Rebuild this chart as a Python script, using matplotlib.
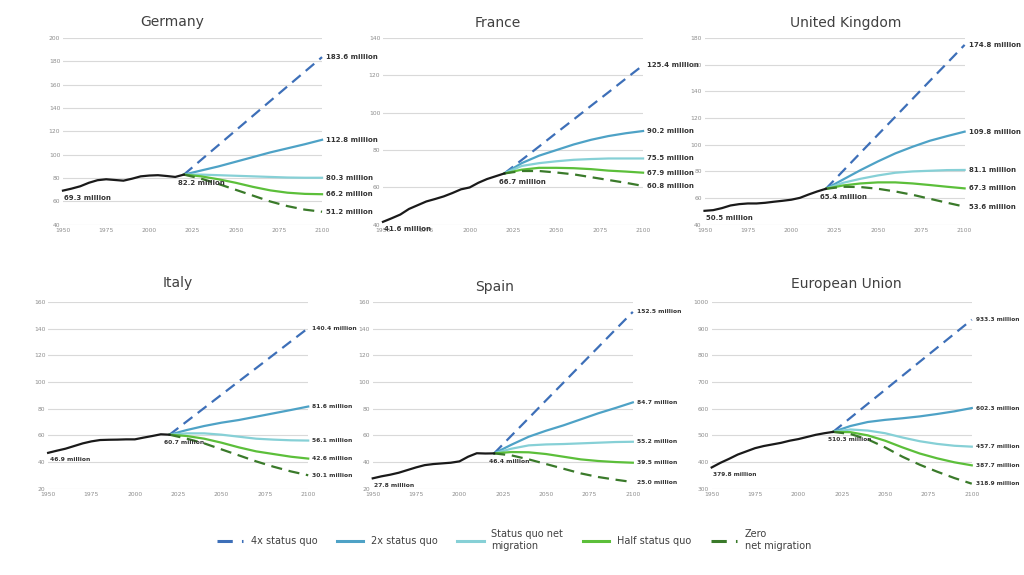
import matplotlib
matplotlib.use("Agg")
import matplotlib.pyplot as plt
from matplotlib.lines import Line2D

# ---- data (millions) -------------------------------------------------------
HIST_YEARS = [1950, 1955, 1960, 1965, 1970, 1975, 1980, 1985, 1990,
              1995, 2000, 2005, 2010, 2015, 2020]
PROJ_YEARS = [2020, 2030, 2040, 2050, 2060, 2070, 2080, 2090, 2100]

COUNTRIES = ["Germany", "France", "United Kingdom", "Italy", "Spain",
             "European Union"]

germany_hist = [69.3, 71.0, 73.0, 76.0, 78.2, 79.0, 78.4, 77.8, 79.5,
                81.5, 82.2, 82.5, 81.8, 81.0, 83.0]
germany_4x = [83.0, 95.6, 108.2, 120.8, 133.4, 146.0, 158.6, 171.1, 183.6]
germany_2x = [83.0, 86.5, 90.0, 94.0, 98.0, 102.0, 105.5, 109.0, 112.8]
germany_sq = [83.0, 83.0, 82.5, 82.0, 81.5, 81.0, 80.5, 80.3, 80.3]
germany_half = [83.0, 81.5, 79.0, 76.0, 72.5, 69.5, 67.5, 66.5, 66.2]
germany_zero = [83.0, 79.5, 75.0, 70.0, 65.0, 60.0, 56.0, 53.0, 51.2]

france_hist = [41.6, 43.5, 45.5, 48.5, 50.5, 52.5, 53.8, 55.2, 57.0,
               59.0, 60.0, 62.5, 64.5, 66.0, 67.5]
france_4x = [67.5, 74.7, 81.9, 89.2, 96.4, 103.7, 110.9, 118.2, 125.4]
france_2x = [67.5, 73.0, 77.0, 80.0, 83.0, 85.5, 87.5, 89.0, 90.2]
france_sq = [67.5, 71.5, 73.0, 74.0, 74.8, 75.2, 75.5, 75.5, 75.5]
france_half = [67.5, 69.5, 70.5, 70.5, 70.3, 69.8, 69.0, 68.5, 67.9]
france_zero = [67.5, 68.8, 68.8, 68.0, 67.0, 65.5, 64.0, 62.5, 60.8]

uk_hist = [50.5, 51.0, 52.5, 54.5, 55.5, 56.0, 56.0, 56.5, 57.3,
           58.0, 58.8, 60.2, 62.7, 65.0, 67.0]
uk_4x = [67.0, 80.5, 94.0, 107.5, 120.9, 134.4, 147.9, 161.3, 174.8]
uk_2x = [67.0, 74.0, 81.0, 87.5, 93.5, 98.5, 103.0, 106.5, 109.8]
uk_sq = [67.0, 71.5, 74.5, 77.0, 79.0, 80.0, 80.5, 81.0, 81.1]
uk_half = [67.0, 69.5, 71.0, 71.8, 71.8, 71.0, 69.8, 68.5, 67.3]
uk_zero = [67.0, 68.5, 68.3, 67.0, 65.0, 62.5, 59.5, 56.5, 53.6]

italy_hist = [46.9, 48.5, 50.0, 52.0, 54.0, 55.5, 56.5, 56.7, 56.8,
              57.0, 57.0, 58.3, 59.5, 60.8, 60.5]
italy_4x = [60.5, 70.5, 80.5, 90.5, 100.5, 110.4, 120.4, 130.4, 140.4]
italy_2x = [60.5, 64.0, 67.0, 69.5, 71.5, 74.0, 76.5, 79.0, 81.6]
italy_sq = [60.5, 61.5, 61.5, 60.5, 59.0, 57.5, 56.8, 56.3, 56.1]
italy_half = [60.5, 59.5, 57.5, 54.5, 51.0, 48.0, 46.0, 44.0, 42.6]
italy_zero = [60.5, 57.5, 54.0, 49.5, 45.0, 40.5, 36.5, 33.0, 30.1]

spain_hist = [27.8, 29.3, 30.5, 32.0, 34.0, 36.0, 37.7, 38.5, 39.0,
              39.5, 40.5, 44.0, 46.6, 46.4, 46.5]
spain_4x = [46.5, 59.8, 73.0, 86.3, 99.5, 112.8, 126.0, 139.3, 152.5]
spain_2x = [46.5, 53.0, 59.0, 63.5, 67.5, 72.0, 76.5, 80.5, 84.7]
spain_sq = [46.5, 50.0, 52.5, 53.2, 53.5, 54.0, 54.5, 55.0, 55.2]
spain_half = [46.5, 47.5, 47.3, 46.0, 44.0, 42.0, 40.8, 40.0, 39.5]
spain_zero = [46.5, 45.0, 42.0, 38.5, 35.0, 31.5, 28.8, 26.8, 25.0]

eu_hist = [379.8, 397.0, 412.0, 428.0, 440.0, 452.0, 460.0, 466.0, 472.0,
           480.0, 486.0, 494.0, 502.0, 508.0, 513.0]
eu_4x = [513.0, 565.5, 618.0, 670.5, 723.2, 775.8, 828.2, 880.8, 933.3]
eu_2x = [513.0, 535.0, 550.0, 558.0, 564.0, 571.0, 580.0, 590.0, 602.3]
eu_sq = [513.0, 522.0, 518.0, 508.0, 492.0, 478.0, 468.0, 461.0, 457.7]
eu_half = [513.0, 512.0, 500.0, 480.0, 455.0, 432.0, 414.0, 399.0, 387.7]
eu_zero = [513.0, 505.0, 485.0, 455.0, 420.0, 390.0, 364.0, 340.0, 318.9]

# labels printed on the chart
start_labels = ["69.3", "41.6", "50.5", "46.9", "27.8", "379.8"]
now_labels = ["82.2", "66.7", "65.4", "60.7", "46.4", "510.3"]
end_labels = [
    ["183.6", "112.8", "80.3", "66.2", "51.2"],
    ["125.4", "90.2", "75.5", "67.9", "60.8"],
    ["174.8", "109.8", "81.1", "67.3", "53.6"],
    ["140.4", "81.6", "56.1", "42.6", "30.1"],
    ["152.5", "84.7", "55.2", "39.5", "25.0"],
    ["933.3", "602.3", "457.7", "387.7", "318.9"],
]

HIST = [germany_hist, france_hist, uk_hist, italy_hist, spain_hist, eu_hist]
PROJ = [
    [germany_4x, germany_2x, germany_sq, germany_half, germany_zero],
    [france_4x, france_2x, france_sq, france_half, france_zero],
    [uk_4x, uk_2x, uk_sq, uk_half, uk_zero],
    [italy_4x, italy_2x, italy_sq, italy_half, italy_zero],
    [spain_4x, spain_2x, spain_sq, spain_half, spain_zero],
    [eu_4x, eu_2x, eu_sq, eu_half, eu_zero],
]
Y_RANGE = [(40, 200, 20), (40, 140, 20), (40, 180, 20),
           (20, 160, 20), (20, 160, 20), (300, 1000, 100)]

SCENARIOS = ["4x status quo", "2x status quo", "Status quo net\nmigration",
             "Half status quo", "Zero\nnet migration"]

# ---- styling / layout ------------------------------------------------------
SCEN_STYLE = [
    dict(color="#3d6fb8", ls=(0, (5, 3)), lw=1.6),
    dict(color="#4ea2c6", ls="-", lw=1.6),
    dict(color="#86d0d6", ls="-", lw=1.6),
    dict(color="#5cbf3a", ls="-", lw=1.6),
    dict(color="#3a7a2a", ls=(0, (5, 3)), lw=1.6),
]
# axes rectangles in figure fraction: left, bottom, width, height
AX_RECTS = [
    (0.0615, 0.609, 0.253, 0.325),
    (0.374, 0.609, 0.254, 0.325),
    (0.688, 0.609, 0.254, 0.325),
    (0.047, 0.150, 0.254, 0.325),
    (0.364, 0.150, 0.254, 0.325),
    (0.695, 0.150, 0.254, 0.325),
]
TITLE_POS = [(0.168, 0.961), (0.486, 0.960), (0.826, 0.960),
             (0.174, 0.508), (0.483, 0.501), (0.826, 0.506)]
LABEL_SIZE = [5.0, 5.0, 5.0, 4.3, 4.3, 4.2]
TEXT = "#333333"


def draw_panel(fig, i):
    ax = fig.add_axes(AX_RECTS[i])
    lo, hi, step = Y_RANGE[i]
    ax.set_xlim(1950, 2100)
    ax.set_ylim(lo, hi)
    ax.set_xticks(range(1950, 2101, 25))
    ax.set_yticks(range(lo, hi + 1, step))
    ax.tick_params(length=0, labelsize=4.3, labelcolor="#8c8c8c", pad=2)
    ax.grid(axis="y", color="#d9d9d9", lw=0.8)
    ax.set_axisbelow(True)
    for sp in ax.spines.values():
        sp.set_visible(False)

    for series, style in zip(PROJ[i], SCEN_STYLE):
        ax.plot(PROJ_YEARS, series, clip_on=False, **style)
    ax.plot(HIST_YEARS, HIST[i], color="#1a1a1a", lw=1.6, clip_on=False)

    fs = LABEL_SIZE[i]
    ax.annotate(f"{start_labels[i]} million", (HIST_YEARS[0], HIST[i][0]),
                xytext=(1, -3), textcoords="offset points", ha="left",
                va="top", fontsize=fs, fontweight="bold", color=TEXT)
    ax.annotate(f"{now_labels[i]} million", (HIST_YEARS[-1], HIST[i][-1]),
                xytext=(-4, -4), textcoords="offset points", ha="left",
                va="top", fontsize=fs, fontweight="bold", color=TEXT)
    for series, lbl in zip(PROJ[i], end_labels[i]):
        ax.annotate(f"{lbl} million", (PROJ_YEARS[-1], series[-1]),
                    xytext=(3, 0), textcoords="offset points", ha="left",
                    va="center", fontsize=fs, fontweight="bold", color=TEXT)

    tx, ty = TITLE_POS[i]
    fig.text(tx, ty, COUNTRIES[i], fontsize=10, color="#404040",
             ha="center", va="center")
    return ax


def main():
    fig = plt.figure(figsize=(10.24, 5.75), dpi=100)
    for i in range(len(COUNTRIES)):
        draw_panel(fig, i)

    handles = [Line2D([], [], **s) for s in SCEN_STYLE]
    for h in handles:
        h.set_linewidth(2.2)
    fig.legend(handles, SCENARIOS, loc="center", bbox_to_anchor=(0.502, 0.061),
               ncol=5, frameon=False, fontsize=7, handlelength=2.7,
               handletextpad=0.8, columnspacing=2.0, labelcolor="#404040")

    fig.savefig("out.png", dpi=100, facecolor="white")
    plt.close(fig)


if __name__ == "__main__":
    main()
